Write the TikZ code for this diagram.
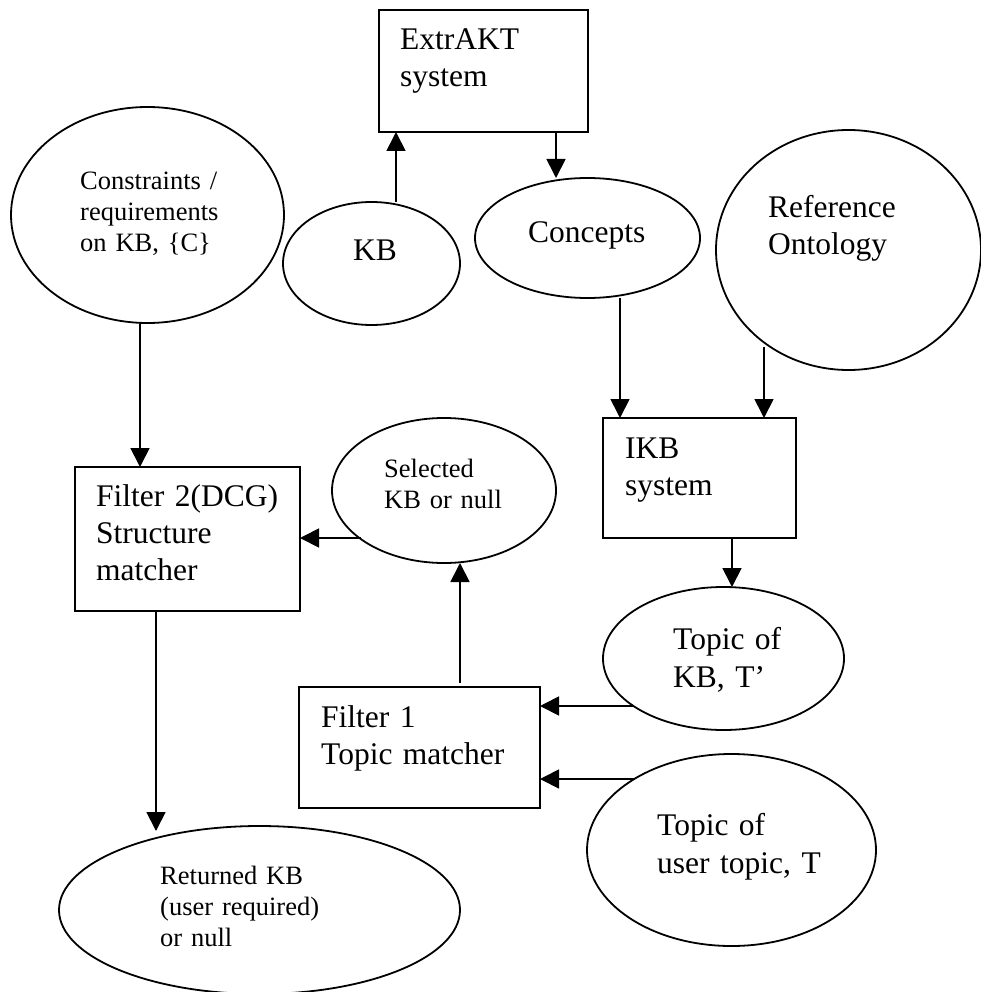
\documentclass[tikz,border=0pt]{standalone}
\usepackage{fontspec}
\setmainfont{Liberation Serif}
\usetikzlibrary{arrows.meta,shapes.geometric}
\begin{document}
\begin{tikzpicture}[x=1pt,y=-1pt,
  shp/.style={draw, line width=1.8pt, inner sep=0pt, outer sep=0pt},
  box/.style={shp, rectangle},
  oval/.style={shp, ellipse},
  txt/.style={inner sep=0pt, anchor=base west, align=left, text width=300pt},
  bigtxt/.style={txt, font=\fontsize{31.5}{37}\selectfont},
  smalltxt/.style={txt, font=\fontsize{26.5}{31}\selectfont},
  arr/.style={line width=1.8pt, -{Triangle[length=19pt,width=19pt]}}]
\useasboundingbox (0,0) rectangle (981,992);

% shapes
\node[box,  minimum width=209pt, minimum height=122pt] (extrakt)  at (483.5,71) {};
\node[oval, minimum width=177pt, minimum height=123pt] (kb)       at (371.5,263.5) {};
\node[oval, minimum width=273pt, minimum height=216pt] (cons)     at (147.5,215) {};
\node[oval, minimum width=225pt, minimum height=120pt] (concepts) at (587.5,238) {};
\node[oval, minimum width=265pt, minimum height=240pt] (refont)   at (848.5,250) {};
\node[box,  minimum width=193pt, minimum height=120pt] (ikb)      at (699.5,478) {};
\node[box,  minimum width=225pt, minimum height=144pt] (filter2)  at (187.5,539) {};
\node[oval, minimum width=224pt, minimum height=145pt] (selected) at (444,490.5) {};
\node[oval, minimum width=241pt, minimum height=143pt] (topickb)  at (723.5,658.5) {};
\node[oval, minimum width=289pt, minimum height=192pt] (topicuser) at (731.5,850) {};
\node[box,  minimum width=241pt, minimum height=121pt] (filter1)  at (419.5,747.5) {};
\node[oval, minimum width=401pt, minimum height=168pt] (returned) at (259.5,910) {};

% texts
\node[bigtxt]   (t-extrakt)  at (400,50)    {ExtrAKT\\system};
\node[smalltxt, font=\fontsize{26.5}{30.7}\selectfont] (t-cons) at (80,190) {Constraints /\\requirements\\on KB, \{C\}};
\node[bigtxt]   (t-kb)       at (353,260)   {KB};
\node[bigtxt]   (t-concepts) at (528,242)   {Concepts};
\node[bigtxt]   (t-refont)   at (768,218)   {Reference\\Ontology};
\node[bigtxt]   (t-ikb)      at (625,458)   {IKB\\system};
\node[bigtxt]   (t-filter2)  at (96,506)    {Filter 2(DCG)\\Structure\\matcher};
\node[smalltxt] (t-selected) at (384,477)   {Selected\\KB or null};
\node[bigtxt, font=\fontsize{31.5}{38}\selectfont] (t-topickb) at (673,649) {Topic of\\KB, T’};
\node[bigtxt, font=\fontsize{31.5}{38}\selectfont] (t-topicuser) at (657,835) {Topic of\\user topic, T};
\node[bigtxt]   (t-filter1)  at (321,727)   {Filter 1\\Topic matcher};
\node[smalltxt] (t-returned) at (160,884.7) {Returned KB\\(user required)\\or null};

% connectors
\draw[arr] ([xshift=24.5pt]kb.north) -- ([xshift=24.5pt]kb.north |- extrakt.south);
\draw[arr] ([xshift=72.5pt]extrakt.south) -- ([xshift=72.5pt]extrakt.south |- concepts.north);
\draw[arr] ([xshift=-7.5pt]cons.south) -- ([xshift=-7.5pt]cons.south |- filter2.north);
\draw[arr] ([xshift=32.5pt]concepts.south) -- ([xshift=32.5pt]concepts.south |- ikb.north);
\draw[arr] ([xshift=-84.5pt,yshift=23pt]refont.south) -- ([xshift=-84.5pt]refont.south |- ikb.north);
\draw[arr] ([xshift=32.5pt]ikb.south) -- ([xshift=32.5pt]ikb.south |- topickb.north);
\draw[arr] ([xshift=31pt,yshift=-47.5pt]topickb.west) -- ([yshift=-47.5pt]topickb.west -| filter1.east);
\draw[arr] ([xshift=48pt,yshift=71pt]topicuser.west) -- ([yshift=71pt]topicuser.west -| filter1.east);
\draw[arr] ([xshift=40.5pt,yshift=4pt]filter1.north) -- ([xshift=40.5pt]filter1.north |- selected.south);
\draw[arr] ([xshift=29pt,yshift=-47.5pt]selected.west) -- ([yshift=-47.5pt]selected.west -| filter2.east);
\draw[arr] ([xshift=-31.5pt]filter2.south) -- ([xshift=-31.5pt,yshift=-5pt]filter2.south |- returned.north);
\end{tikzpicture}
\end{document}
